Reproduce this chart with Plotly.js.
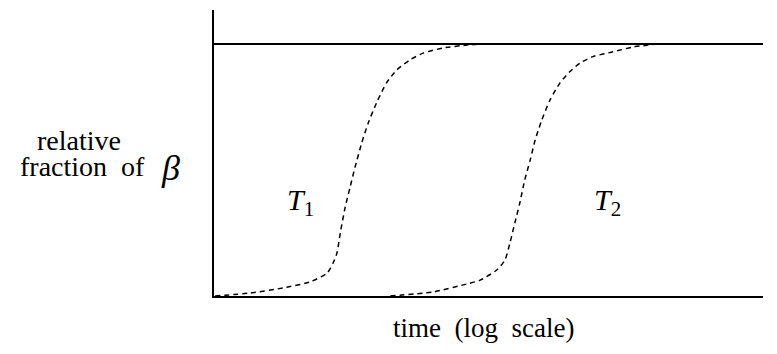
<!DOCTYPE html>
<html>
<head>
<meta charset="utf-8">
<script src="https://cdn.plot.ly/plotly-3.0.1.min.js"></script>
<style>
  /* annotation text in solid black */
  #chart text.annotation-text { fill: #000 !important; }
</style>
</head>
<body style="margin:0">
<div id="chart" style="width:777px;height:354px"></div>
<script>
// Log-time axis (arbitrary units) and relative fraction of the beta phase
// for two temperatures T1 and T2.
const timeT1 = [0.02, 0.66, 1.26, 1.75, 2.06, 2.17, 2.24, 2.30, 2.39, 2.48, 2.57,
                2.69, 2.81, 2.96, 3.14, 3.33, 3.57, 3.81, 4.17, 4.61, 4.90];
const fracT1 = [0.000, 0.012, 0.032, 0.056, 0.091, 0.131, 0.171, 0.250, 0.353, 0.433, 0.512,
                0.607, 0.687, 0.766, 0.845, 0.897, 0.937, 0.964, 0.984, 0.996, 1.000];

const timeT2 = [3.21, 3.99, 4.61, 4.85, 5.15, 5.30, 5.39, 5.48, 5.57, 5.66, 5.76,
                5.85, 5.97, 6.12, 6.30, 6.48, 6.67, 6.90, 7.27, 7.63, 8.00];
const fracT2 = [0.000, 0.016, 0.048, 0.063, 0.103, 0.143, 0.210, 0.290, 0.369, 0.460, 0.540,
                0.619, 0.698, 0.778, 0.845, 0.890, 0.925, 0.950, 0.969, 0.988, 0.998];

const curveLabels = ['<i>T</i><sub>1</sub>', '<i>T</i><sub>2</sub>'];
const labelPosX = [1.58, 7.16];
const labelPosY = [0.373, 0.373];

const FONT = 'Liberation Serif';

const curveStyle = { color: 'black', width: 1.5, dash: '5px,4px', shape: 'spline', smoothing: 0.6 };

const traces = [
  { x: timeT1, y: fracT1, mode: 'lines', line: curveStyle, hoverinfo: 'skip', showlegend: false },
  { x: timeT2, y: fracT2, mode: 'lines', line: curveStyle, hoverinfo: 'skip', showlegend: false }
];

// plot area in pixels: left 214, right 763, top 10, bottom 296
const W = 777, H = 354, ML = 214, MR = 14, MT = 10, MB = 58;
const px = x => (x - ML) / (W - ML - MR);
const py = y => (H - MB - y) / (H - MT - MB);

const annotations = curveLabels.map((t, i) => ({
  x: labelPosX[i], y: labelPosY[i], xref: 'x', yref: 'y', text: t, showarrow: false,
  xanchor: 'center', yanchor: 'middle',
  font: { family: FONT, size: 30 }
}));

function pageText(x, y, text, size) {
  return { x: px(x), y: py(y), xref: 'paper', yref: 'paper', text: text, showarrow: false,
           xanchor: 'center', yanchor: 'middle',
           font: { family: FONT, size: size } };
}

annotations.push(
  pageText(79, 140, 'relative', 28),
  pageText(82, 166, 'fraction&nbsp;&nbsp;of', 28),
  pageText(170, 168, '<i>β</i>', 36),
  pageText(483, 328, 'time&nbsp;&nbsp;(log&nbsp;&nbsp;scale)', 27)
);

const layout = {
  width: W, height: H,
  margin: { l: ML, r: MR, t: MT, b: MB },
  paper_bgcolor: 'white', plot_bgcolor: 'white',
  xaxis: { range: [0, 10], showline: true, linecolor: 'black', linewidth: 2,
           showgrid: false, zeroline: false, showticklabels: false, ticks: '' },
  yaxis: { range: [0, 1.135], showline: true, linecolor: 'black', linewidth: 2,
           showgrid: false, zeroline: false, showticklabels: false, ticks: '' },
  shapes: [
    { type: 'line', xref: 'paper', x0: 0, x1: 1, yref: 'y', y0: 1, y1: 1,
      line: { color: 'black', width: 2 } }
  ],
  annotations: annotations
};

Plotly.newPlot('chart', traces, layout, { staticPlot: true });
</script>
</body>
</html>
